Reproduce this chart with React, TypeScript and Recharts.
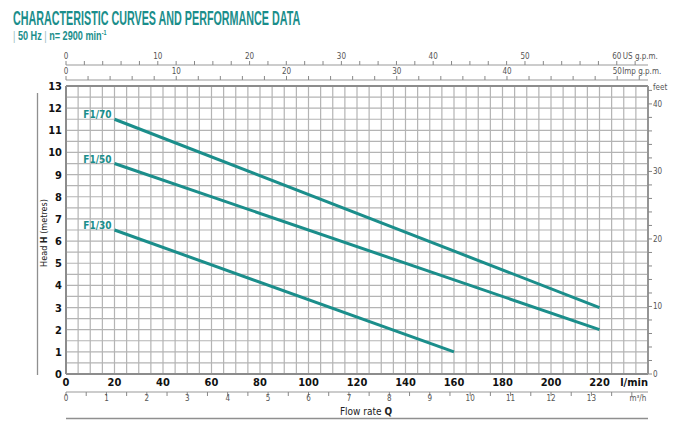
import React from "react";
import {
  ComposedChart,
  Line,
  XAxis,
  YAxis,
  CartesianGrid,
  LabelList,
  ReferenceLine,
} from "recharts";

// pump curves, flow in l/min, head in metres
const f170Flow = [20, 220];
const f170Head = [11.5, 3.0];
const f150Flow = [20, 220];
const f150Head = [9.5, 2.0];
const f130Flow = [20, 160];
const f130Head = [6.5, 1.0];

const flowLabels = [0, 20, 40, 60, 80, 100, 120, 140, 160, 180, 200, 220];
const headLabels = [0, 1, 2, 3, 4, 5, 6, 7, 8, 9, 10, 11, 12, 13];
const usGpmLabels = [0, 10, 20, 30, 40, 50, 60];
const impGpmLabels = [0, 10, 20, 30, 40, 50];
const m3hLabels = [0, 1, 2, 3, 4, 5, 6, 7, 8, 9, 10, 11, 12, 13];
const feetLabels = [0, 10, 20, 30, 40];

const FLOW_MAX = 240;
const HEAD_MAX = 13;

// grid / minor tick positions
const flowGrid = Array.from({ length: FLOW_MAX / 5 + 1 }, (_, i) => i * 5);
const headGrid = Array.from({ length: HEAD_MAX * 2 + 1 }, (_, i) => i * 0.5);
const usGpmTicks = Array.from({ length: 32 }, (_, i) => i * 2);
const impGpmTicks = Array.from({ length: 27 }, (_, i) => i * 2);
const m3hTicks = Array.from({ length: 29 }, (_, i) => i * 0.5);
const feetTicks = Array.from({ length: 22 }, (_, i) => i * 2);

const toRows = (q: number[], h: number[]) => q.map((v, i) => ({ q: v, h: h[i] }));

const TEAL = "#1b8e8b";
const GRID = "#b4b4b4";
const BORDER = "#8c8c8c";
const RULE = "#8f8f8f";
const FONT = "'DejaVu Sans Condensed', 'Liberation Sans Narrow', sans-serif";
const narrow = { fontFamily: FONT, fontStretch: "condensed" as const };

// plot area: x 66..648, y 86..374
const PLOT_LEFT = 66;
const PLOT_RIGHT = 38;

const MainXTick = ({ x, y, payload }: any) => {
  const v = payload.value;
  if (v === FLOW_MAX)
    return (
      <text x={x} y={y + 12} textAnchor="end" fontSize={11} fontWeight="bold" fill="#111" style={narrow}>
        l/min
      </text>
    );
  if (!flowLabels.includes(v)) return <g />;
  return (
    <text x={x} y={y + 12} textAnchor="middle" fontSize={11} fontWeight="bold" fill="#111" style={narrow}>
      {v}
    </text>
  );
};

const MainYTick = ({ x, y, payload }: any) => {
  const v = payload.value;
  if (!headLabels.includes(v)) return <g />;
  return (
    <text x={x - 4} y={y + 4} textAnchor="end" fontSize={11} fontWeight="bold" fill="#111" style={narrow}>
      {v}
    </text>
  );
};

const smallText = { fontSize: 8, fill: "#555", style: narrow };

const UsTick = ({ x, y, payload }: any) => {
  const v = payload.value;
  if (!usGpmLabels.includes(v)) return <g />;
  return (
    <g>
      <text x={x} y={y - 2} textAnchor="middle" {...smallText}>
        {v}
      </text>
      {v === 60 && (
        <text x={x + 6} y={y - 2} textAnchor="start" {...smallText}>
          US g.p.m.
        </text>
      )}
    </g>
  );
};

const ImpTick = ({ x, y, payload }: any) => {
  const v = payload.value;
  if (!impGpmLabels.includes(v)) return <g />;
  return (
    <g>
      <text x={x} y={y - 2} textAnchor="middle" {...smallText}>
        {v}
      </text>
      {v === 50 && (
        <text x={x + 5} y={y - 2} textAnchor="start" {...smallText}>
          Imp g.p.m.
        </text>
      )}
    </g>
  );
};

// m3/h scale: labels, plus the closing rule under "Flow rate Q" drawn with the first tick
const M3hTick = ({ x, y, payload }: any) => {
  const v = payload.value;
  if (v === 14)
    return (
      <text x={x + 6} y={y + 5} textAnchor="middle" {...smallText}>
        m³/h
      </text>
    );
  if (!m3hLabels.includes(v)) return <g />;
  return (
    <g>
      <text x={x} y={y + 5} textAnchor="middle" {...smallText}>
        {v}
      </text>
      {v === 0 && <line x1={x} x2={648} y1={418.5} y2={418.5} stroke={RULE} strokeWidth={1.3} />}
    </g>
  );
};

// feet scale: labels, plus the rule on the far left drawn with the first tick
const FeetTick = ({ x, y, payload }: any) => {
  const v = payload.value;
  if (v === 42)
    return (
      <text x={x + 1} y={y} textAnchor="start" {...smallText}>
        feet
      </text>
    );
  if (!feetLabels.includes(v)) return <g />;
  return (
    <g>
      <text x={x + 1} y={y + 3} textAnchor="start" {...smallText}>
        {v}
      </text>
      {v === 0 && <line x1={37.5} x2={37.5} y1={93} y2={y + 1} stroke={RULE} strokeWidth={1.3} />}
    </g>
  );
};

const curveLabel = (name: string) => (props: any) => {
  const { x, y, index } = props;
  if (index !== 0) return <g />;
  return (
    <text x={x - 3} y={y - 1} textAnchor="end" fontSize={10} fontWeight="bold" fill={TEAL} style={narrow}>
      {name}
    </text>
  );
};

const FlowTitle = ({ viewBox }: any) => (
  <text x={366} y={(viewBox?.y ?? 392) + 23} textAnchor="middle" fontSize={10} fill="#222" style={narrow}>
    Flow rate <tspan fontWeight="bold">Q</tspan>
  </text>
);

const HeadTitle = () => (
  <text
    x={44}
    y={233}
    transform="rotate(-90 44 233)"
    textAnchor="middle"
    dominantBaseline="central"
    fontSize={9}
    fill="#222"
    style={narrow}
  >
    Head <tspan fontWeight="bold">H</tspan> (metres)
  </text>
);

const auxX = { type: "number" as const, dataKey: "q", allowDataOverflow: true, interval: 0 as const, tickMargin: 0 };
const layer: React.CSSProperties = { position: "absolute", left: 0, top: 0 };

export default function App() {
  const series = [
    { name: "F1/70", rows: toRows(f170Flow, f170Head) },
    { name: "F1/50", rows: toRows(f150Flow, f150Head) },
    { name: "F1/30", rows: toRows(f130Flow, f130Head) },
  ];
  const rows = series[0].rows;
  return (
    <div style={{ position: "absolute", left: 0, top: 0, width: 686, height: 428 }}>
      <div
        style={{
          position: "absolute",
          left: 13,
          top: 7,
          fontFamily: "'Liberation Sans', Arial, sans-serif",
          fontSize: 20,
          fontWeight: "bold",
          color: TEAL,
          whiteSpace: "nowrap",
          transform: "scaleX(0.537)",
          transformOrigin: "left top",
        }}
      >
        CHARACTERISTIC CURVES AND PERFORMANCE DATA
      </div>
      <div
        style={{
          position: "absolute",
          left: 13,
          top: 29,
          fontFamily: "'Liberation Sans', Arial, sans-serif",
          fontSize: 12,
          fontWeight: "bold",
          color: TEAL,
          whiteSpace: "nowrap",
          transform: "scaleX(0.76)",
          transformOrigin: "left top",
        }}
      >
        <span style={{ color: "#9bbcbc", fontWeight: "normal" }}>| </span>50 Hz
        <span style={{ color: "#9bbcbc", fontWeight: "normal" }}> | </span>n= 2900 min
        <sup style={{ fontSize: 7 }}>-1</sup>
      </div>

      {/* main chart */}
      <div style={layer}>
        <ComposedChart width={686} height={428} data={rows} margin={{ top: 79, right: 0, bottom: 10, left: 0 }}>
          <CartesianGrid stroke={GRID} strokeWidth={1.2} horizontal vertical />
          <XAxis
            xAxisId={0}
            type="number"
            dataKey="q"
            domain={[0, FLOW_MAX]}
            ticks={flowGrid}
            interval={0}
            height={18}
            tickSize={0}
            tickMargin={0}
            tickLine={false}
            axisLine={{ stroke: BORDER, strokeWidth: 2 }}
            tick={<MainXTick />}
          />
          <XAxis
            {...auxX}
            xAxisId="m3h"
            domain={[0, (FLOW_MAX * 60) / 1000]}
            ticks={m3hTicks}
            height={26}
            tickSize={4}
            tickLine={{ stroke: "#888" }}
            axisLine={{ stroke: "#999" }}
            tick={<M3hTick />}
            label={FlowTitle}
          />
          <XAxis
            {...auxX}
            xAxisId="topspacer"
            orientation="top"
            domain={[0, FLOW_MAX]}
            height={7}
            tick={false}
            tickLine={false}
            axisLine={false}
          />
          <YAxis
            yAxisId={0}
            type="number"
            domain={[0, HEAD_MAX]}
            ticks={headGrid}
            interval={0}
            width={29}
            tickSize={0}
            tickMargin={0}
            tickLine={false}
            axisLine={{ stroke: BORDER, strokeWidth: 2 }}
            tick={<MainYTick />}
          />
          <YAxis
            yAxisId="leftline"
            type="number"
            domain={[0, 1]}
            width={37}
            tick={false}
            tickLine={false}
            axisLine={false}
            label={HeadTitle}
          />
          <YAxis
            yAxisId="rspacer"
            orientation="right"
            type="number"
            domain={[0, 1]}
            width={5}
            tick={false}
            tickLine={false}
            axisLine={false}
          />
          <YAxis
            yAxisId="feet"
            orientation="right"
            type="number"
            domain={[0, HEAD_MAX * 3.28084]}
            allowDataOverflow
            ticks={feetTicks}
            interval={0}
            width={33}
            tickSize={4}
            tickMargin={0}
            tickLine={{ stroke: "#888" }}
            axisLine={{ stroke: "#999", strokeWidth: 1.5 }}
            tick={<FeetTick />}
          />
          <ReferenceLine y={HEAD_MAX} xAxisId={0} yAxisId={0} stroke={BORDER} strokeWidth={2} />
          <ReferenceLine x={FLOW_MAX} xAxisId={0} yAxisId={0} stroke={BORDER} strokeWidth={2} />
          {series.map((s) => (
            <Line
              key={s.name}
              data={s.rows}
              dataKey="h"
              xAxisId={0}
              yAxisId={0}
              stroke={TEAL}
              strokeWidth={3}
              dot={false}
              activeDot={false}
              isAnimationActive={false}
            >
              <LabelList dataKey="h" content={curveLabel(s.name)} />
            </Line>
          ))}
        </ComposedChart>
      </div>

      {/* Imp g.p.m. scale */}
      <div style={layer}>
        <ComposedChart width={686} height={428} data={rows} margin={{ top: 66, right: PLOT_RIGHT, bottom: 20, left: PLOT_LEFT }}>
          <XAxis
            {...auxX}
            xAxisId="imp"
            orientation="top"
            domain={[0, FLOW_MAX / 4.54609]}
            ticks={impGpmTicks}
            height={14}
            tickSize={4}
            tickLine={{ stroke: "#888" }}
            axisLine={{ stroke: "#999" }}
            tick={<ImpTick />}
          />
        </ComposedChart>
      </div>

      {/* US g.p.m. scale */}
      <div style={layer}>
        <ComposedChart width={686} height={428} data={rows} margin={{ top: 51, right: PLOT_RIGHT, bottom: 20, left: PLOT_LEFT }}>
          <XAxis
            {...auxX}
            xAxisId="us"
            orientation="top"
            domain={[0, FLOW_MAX / 3.785411784]}
            ticks={usGpmTicks}
            height={14}
            tickSize={4}
            tickLine={{ stroke: "#888" }}
            axisLine={{ stroke: "#999" }}
            tick={<UsTick />}
          />
        </ComposedChart>
      </div>
    </div>
  );
}
